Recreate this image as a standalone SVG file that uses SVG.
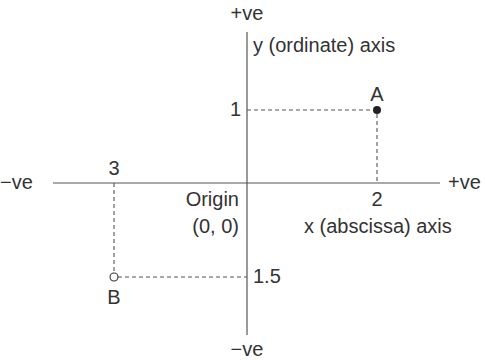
<svg xmlns="http://www.w3.org/2000/svg" width="485" height="360" viewBox="0 0 485 360">
<style>
text{font-family:"Liberation Sans",Arial,sans-serif;font-size:20px;fill:#333}
.ax{stroke:#555;stroke-width:1.2;fill:none}
.dash{stroke:#555;stroke-width:1.1;stroke-dasharray:4 3;fill:none}
.m{text-anchor:middle}
.e{text-anchor:end}
</style>
<rect width="485" height="360" fill="#fff"/>
<g id="connectors">
<line class="ax" x1="247" y1="32" x2="247" y2="335"/>
<line class="ax" x1="53" y1="183" x2="440" y2="183"/>
<line class="dash" x1="247" y1="110" x2="373" y2="110"/>
<line class="dash" x1="377" y1="114" x2="377" y2="183"/>
<line class="dash" x1="114" y1="183" x2="114" y2="273"/>
<line class="dash" x1="118" y1="277" x2="247" y2="277"/>
</g>
<g id="labels">
<text class="m" x="247" y="20">+ve</text>
<text x="253" y="52">y (ordinate) axis</text>
<text class="e" x="241" y="116">1</text>
<text class="m" x="114" y="175">3</text>
<text x="0" y="189">−ve</text>
<text x="448" y="189">+ve</text>
<text class="m" x="377" y="206">2</text>
<text class="e" x="239" y="206">Origin</text>
<text class="e" x="239" y="233">(0, 0)</text>
<text x="304" y="233">x (abscissa) axis</text>
<text x="253" y="283">1.5</text>
<text class="m" x="247" y="356">−ve</text>
</g>
<g id="pointA">
<circle cx="377" cy="110" r="4" fill="#222"/>
<text class="m" x="377" y="101">A</text>
</g>
<g id="pointB">
<circle cx="114" cy="277" r="4" fill="#fff" stroke="#333" stroke-width="1.1"/>
<text class="m" x="114" y="304">B</text>
</g>
</svg>
